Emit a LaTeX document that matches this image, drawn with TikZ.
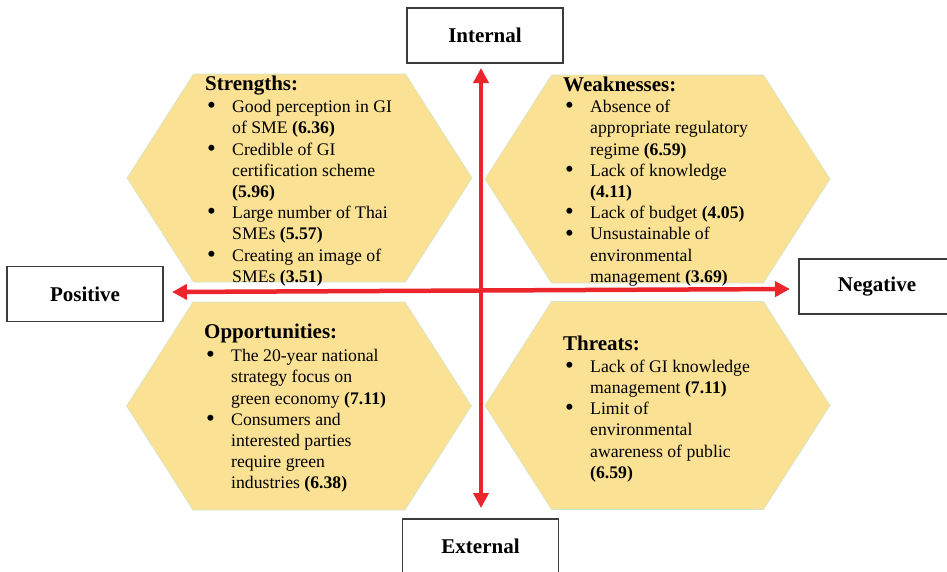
\documentclass[tikz,border=0pt]{standalone}
\usepackage{fontspec}
\setmainfont{Liberation Serif}
\usetikzlibrary{arrows.meta}
\definecolor{hexfill}{RGB}{251,225,148}
\definecolor{hexedge}{RGB}{210,230,205}
\definecolor{axisred}{RGB}{234,38,44}
\definecolor{boxedge}{RGB}{60,60,60}
\newcommand{\swothead}{\fontsize{21}{24}\selectfont\bfseries}
\newcommand{\swotbul}{\makebox[27pt][l]{\hspace{2pt}\raisebox{-1.2pt}[0pt][0pt]{\fontsize{25}{25}\selectfont\textbullet}}}
\newcommand{\swothex}[2]{\path[hexstyle] (#1,#2) ++(-172.5,0) -- ++(66.5,-104) -- ++(212,0) -- ++(66.5,104) -- ++(-66.5,104) -- ++(-212,0) -- cycle;}
\tikzset{
  hexstyle/.style={fill=hexfill, draw=hexedge, line width=0.6pt},
  swottext/.style={anchor=base west, inner sep=0pt, text=black, font=\fontsize{17.7}{21.2}\selectfont},
  labelbox/.style={draw=boxedge, line width=1.3pt, fill=white, minimum width=156pt, minimum height=55pt, inner sep=0pt, font=\swothead},
  axisarrow/.style={draw=axisred, line width=4.5pt, {Triangle[width=15pt,length=15pt]}-{Triangle[width=15pt,length=15pt]}, fill=axisred}
}
\begin{document}
\begin{tikzpicture}[x=1pt,y=-1pt]
\useasboundingbox (0,0) rectangle (947,571);
\begin{scope}
\clip (0,0) rectangle (947,571);
\fill[white] (0,0) rectangle (947,571);
% hexagons
\swothex{299.5}{178}
\swothex{657.5}{179}
\swothex{299}{406}
\swothex{657.5}{405.5}
% texts
\node[swottext] (S) at (205,90) {\begin{tabular}[t]{@{}l@{}l@{}}
\multicolumn{2}{@{}l@{}}{\swothead Strengths:}\\[1.5pt]
\swotbul & Good perception in GI\\
 & of SME \textbf{(6.36)}\\
\swotbul & Credible of GI\\
 & certification scheme\\
 & \textbf{(5.96)}\\
\swotbul & Large number of Thai\\
 & SMEs \textbf{(5.57)}\\
\swotbul & Creating an image of\\
 & SMEs \textbf{(3.51)}
\end{tabular}};
\node[swottext] (W) at (563,91.5) {\begin{tabular}[t]{@{}l@{}l@{}}
\multicolumn{2}{@{}l@{}}{\swothead Weaknesses:}\\[0pt]
\swotbul & Absence of\\
 & appropriate regulatory\\
 & regime \textbf{(6.59)}\\
\swotbul & Lack of knowledge\\
 & \textbf{(4.11)}\\
\swotbul & Lack of budget \textbf{(4.05)}\\
\swotbul & Unsustainable of\\
 & environmental\\
 & management \textbf{(3.69)}
\end{tabular}};
\node[swottext] (O) at (204,338) {\begin{tabular}[t]{@{}l@{}l@{}}
\multicolumn{2}{@{}l@{}}{\swothead Opportunities:}\\[2.5pt]
\swotbul & The 20-year national\\
 & strategy focus on\\
 & green economy \textbf{(7.11)}\\
\swotbul & Consumers and\\
 & interested parties\\
 & require green\\
 & industries \textbf{(6.38)}
\end{tabular}};
\node[swottext] (T) at (563,350) {\begin{tabular}[t]{@{}l@{}l@{}}
\multicolumn{2}{@{}l@{}}{\swothead Threats:}\\[1pt]
\swotbul & Lack of GI knowledge\\
 & management \textbf{(7.11)}\\
\swotbul & Limit of\\
 & environmental\\
 & awareness of public\\
 & \textbf{(6.59)}
\end{tabular}};
% axes
\coordinate (axtop) at (481,68);
\coordinate (axbot) at (481,508);
\coordinate (axlft) at (172,292);
\coordinate (axrgt) at (790,289);
\draw[axisarrow] (axbot) -- (axtop);
\draw[axisarrow] (axrgt) -- (axlft);
% label boxes
\node[labelbox] (internal) at (485,35.5) {Internal};
\node[labelbox] (external) at (480.5,546.5) {External};
\node[labelbox] (positive) at (85,294) {Positive};
\node[labelbox] (negative) at (877,286.5) {Negative};
\end{scope}
\end{tikzpicture}
\end{document}
